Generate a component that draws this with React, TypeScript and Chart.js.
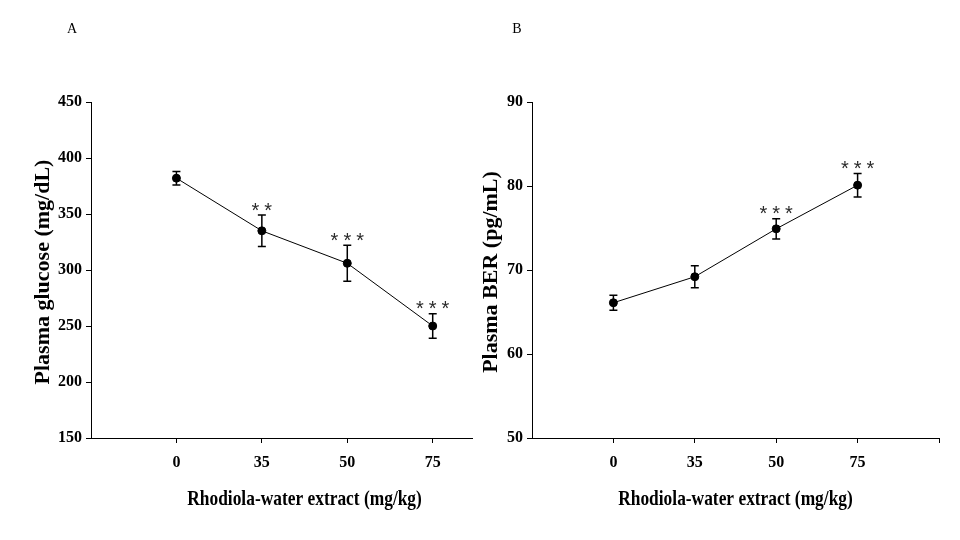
import React, { useEffect, useRef } from "react";
import { Chart, registerables } from "chart.js";

Chart.register(...registerables);

// ---- data ----
const doses = ["0", "35", "50", "75"];
const glucoseMean = [382, 335, 306, 250];
const glucoseSem = [6, 14, 16, 11];
const glucoseStars = ["", "**", "***", "***"];
const berMean = [66.1, 69.2, 74.9, 80.1];
const berSem = [0.9, 1.3, 1.2, 1.4];
const berStars = ["", "", "***", "***"];
const glucoseTicks = [150, 200, 250, 300, 350, 400, 450];
const berTicks = [50, 60, 70, 80, 90];

const SERIF = '"Liberation Serif", "Times New Roman", serif';

type PanelCfg = {
  left: number;
  width: number;
  letter: string;
  letterX: number;
  yTitle: string;
  yTitleX: number;
  xTitle: string;
  mean: number[];
  sem: number[];
  stars: string[];
  yMin: number;
  yMax: number;
  yStep: number;
  xMax: number;
  xTickVals: number[];
  yAxisWidth: number;
  padRight: number;
};

function makePlugin(cfg: PanelCfg) {
  return {
    id: "extras",
    beforeDatasetsDraw(chart: any) {
      const ctx = chart.ctx;
      const xs = chart.scales.x;
      const ys = chart.scales.y;
      ctx.save();
      ctx.strokeStyle = "#000";
      ctx.lineWidth = 1.5;
      cfg.mean.forEach((m, i) => {
        const x = xs.getPixelForValue(i);
        const yt = ys.getPixelForValue(m + cfg.sem[i]);
        const yb = ys.getPixelForValue(m - cfg.sem[i]);
        ctx.beginPath();
        ctx.moveTo(x, yt);
        ctx.lineTo(x, yb);
        ctx.moveTo(x - 4, yt);
        ctx.lineTo(x + 4, yt);
        ctx.moveTo(x - 4, yb);
        ctx.lineTo(x + 4, yb);
        ctx.stroke();
      });
      ctx.restore();
    },
    afterDatasetsDraw(chart: any) {
      const ctx = chart.ctx;
      const xs = chart.scales.x;
      const ys = chart.scales.y;
      ctx.save();
      ctx.fillStyle = "#2a2a2a";
      ctx.font = '20px "Liberation Sans", Arial, sans-serif';
      ctx.textAlign = "center";
      ctx.textBaseline = "alphabetic";
      cfg.stars.forEach((s, i) => {
        if (!s) return;
        const x = xs.getPixelForValue(i);
        const yt = ys.getPixelForValue(cfg.mean[i] + cfg.sem[i]);
        const n = s.length;
        for (let k = 0; k < n; k++) {
          const dx = (k - (n - 1) / 2) * 12.8;
          ctx.fillText("*", x + dx, yt + 1.5);
        }
      });
      ctx.restore();
    },
    afterDraw(chart: any) {
      const ctx = chart.ctx;
      const xs = chart.scales.x;
      const area = chart.chartArea;
      ctx.save();
      ctx.fillStyle = "#000";
      // panel letter
      ctx.font = "14px " + SERIF;
      ctx.textAlign = "center";
      ctx.textBaseline = "middle";
      ctx.fillText(cfg.letter, cfg.letterX, 29);
      // y title
      ctx.save();
      ctx.translate(cfg.yTitleX, (area.top + area.bottom) / 2 + 2);
      ctx.rotate(-Math.PI / 2);
      ctx.font = "bold 22px " + SERIF;
      ctx.textAlign = "center";
      ctx.textBaseline = "middle";
      ctx.fillText(cfg.yTitle, 0, 0);
      ctx.restore();
      // x title (condensed)
      const cx = (xs.getPixelForValue(0) + xs.getPixelForValue(3)) / 2;
      ctx.save();
      ctx.translate(cx, 499);
      ctx.scale(0.79, 1);
      ctx.font = "bold 22px " + SERIF;
      ctx.textAlign = "center";
      ctx.textBaseline = "middle";
      ctx.fillText(cfg.xTitle, 0, 0);
      ctx.restore();
      ctx.restore();
    },
  };
}

function Panel({ cfg }: { cfg: PanelCfg }) {
  const ref = useRef<HTMLCanvasElement | null>(null);
  useEffect(() => {
    if (!ref.current) return;
    const chart = new Chart(ref.current, {
      type: "line",
      data: {
        datasets: [
          {
            data: cfg.mean.map((m, i) => ({ x: i, y: m })),
            borderColor: "#000",
            borderWidth: 1,
            backgroundColor: "#000",
            pointRadius: 4,
            pointBackgroundColor: "#000",
            pointBorderColor: "#000",
            tension: 0,
          },
        ],
      },
      options: {
        animation: false,
        responsive: false,
        events: [],
        layout: { padding: { top: 102, left: 0, right: cfg.padRight, bottom: 0 } },
        plugins: { legend: { display: false }, tooltip: { enabled: false } },
        scales: {
          x: {
            type: "linear",
            min: -1,
            max: cfg.xMax,
            afterBuildTicks: (scale: any) => {
              scale.ticks = cfg.xTickVals.map((v) => ({ value: v }));
            },
            afterFit: (scale: any) => {
              scale.height = 102;
            },
            ticks: {
              autoSkip: false,
              maxRotation: 0,
              padding: 10,
              color: "#000",
              font: { family: SERIF, size: 16, weight: "bold" },
              callback: (v: any) => (doses[v] !== undefined ? doses[v] : ""),
            },
            grid: { display: true, drawOnChartArea: false, drawTicks: true, tickLength: 5, color: "#000" },
            border: { display: true, color: "#000", width: 1 },
          },
          y: {
            min: cfg.yMin,
            max: cfg.yMax,
            afterFit: (scale: any) => {
              scale.width = cfg.yAxisWidth;
            },
            ticks: {
              stepSize: cfg.yStep,
              padding: 4,
              color: "#000",
              font: { family: SERIF, size: 16, weight: "bold" },
            },
            grid: { display: true, drawOnChartArea: false, drawTicks: true, tickLength: 5, color: "#000" },
            border: { display: true, color: "#000", width: 1 },
          },
        },
      },
      plugins: [makePlugin(cfg)],
    } as any);
    return () => chart.destroy();
  }, [cfg]);
  return (
    <canvas
      ref={ref}
      width={cfg.width}
      height={540}
      style={{ position: "absolute", left: cfg.left, top: 0, width: cfg.width, height: 540 }}
    />
  );
}

const panelA: PanelCfg = {
  left: 0,
  width: 480,
  letter: "A",
  letterX: 72,
  yTitle: "Plasma glucose (mg/dL)",
  yTitleX: 43,
  xTitle: "Rhodiola-water extract (mg/kg)",
  mean: glucoseMean,
  sem: glucoseSem,
  stars: glucoseStars,
  yMin: glucoseTicks[0],
  yMax: glucoseTicks[glucoseTicks.length - 1],
  yStep: 50,
  xMax: 3.46,
  xTickVals: [0, 1, 2, 3],
  yAxisWidth: 91,
  padRight: 8,
};

const panelB: PanelCfg = {
  left: 460,
  width: 500,
  letter: "B",
  letterX: 57,
  yTitle: "Plasma BER (pg/mL)",
  yTitleX: 31,
  xTitle: "Rhodiola-water extract (mg/kg)",
  mean: berMean,
  sem: berSem,
  stars: berStars,
  yMin: berTicks[0],
  yMax: berTicks[berTicks.length - 1],
  yStep: 10,
  xMax: 4,
  xTickVals: [0, 1, 2, 3, 4],
  yAxisWidth: 72,
  padRight: 21,
};

export default function App() {
  return (
    <div style={{ position: "absolute", left: 0, top: 0, width: 960, height: 540, background: "#fff" }}>
      <Panel cfg={panelA} />
      <Panel cfg={panelB} />
    </div>
  );
}
